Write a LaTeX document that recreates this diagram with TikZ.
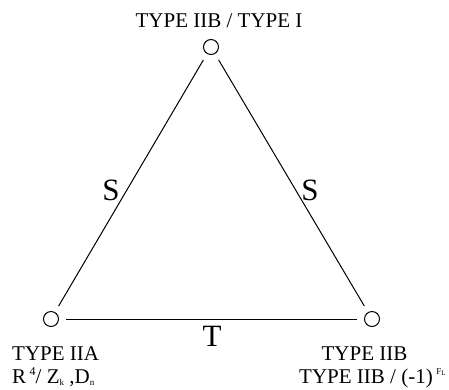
\documentclass[tikz,border=0pt]{standalone}
\usepackage{fontspec}
\setmainfont{Liberation Serif}
\newcommand{\supfs}{\fontsize{12}{12}\selectfont}
\newcommand{\subfs}{\fontsize{9}{9}\selectfont}
\newcommand{\tinyfs}{\fontsize{7}{7}\selectfont}
\begin{document}
\begin{tikzpicture}[x=1pt,y=-1pt,
  vtx/.style={circle,draw,line width=1pt,minimum size=15pt,inner sep=0pt},
  edge/.style={line width=1pt,shorten >=7pt,shorten <=7pt},
  lab/.style={font=\fontsize{21}{21}\selectfont,inner sep=0pt},
  big/.style={font=\fontsize{31}{31}\selectfont,inner sep=0pt}]
\useasboundingbox (0,0) rectangle (449,389);
\node[vtx] (a) at (211,47) {};
\node[vtx] (b) at (51,319) {};
\node[vtx] (c) at (372,319) {};
\draw[edge] (a) -- (b);
\draw[edge] (a) -- (c);
\draw[edge] (b) -- (c);
\node[big] (s1) at (111,190) {S};
\node[big] (s2) at (310,190) {S};
\node[big] (t) at (212,336) {T};
\node[lab,anchor=base] (la) at (219,27) {TYPE IIB / TYPE I};
\node[lab,anchor=base west] (lb1) at (12,360) {TYPE IIA};
\node[lab,anchor=base west] (lb2) at (12,383) {R\,\raisebox{8pt}{\supfs 4}/ Z\raisebox{-2pt}{\subfs k} ,D\raisebox{-2pt}{\subfs n}};
\node[lab,anchor=base] (lc1) at (364.5,360) {TYPE IIB};
\node[lab,anchor=base west] (lc2) at (299,383) {TYPE IIB / (-1)\,\raisebox{9pt}{\subfs F\raisebox{-1.5pt}{\tinyfs L}}};
\end{tikzpicture}
\end{document}
